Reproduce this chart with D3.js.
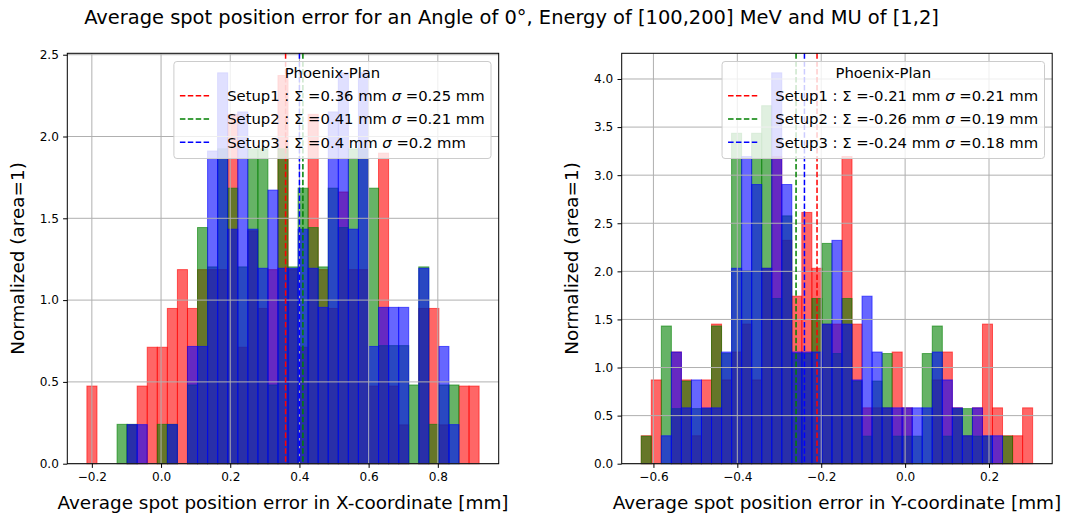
<!DOCTYPE html>
<html>
<head>
<meta charset="utf-8">
<script src="https://cdn.jsdelivr.net/npm/d3@7"></script>
<style>
  html, body { margin: 0; padding: 0; background: #ffffff; }
  svg { display: block; font-family: "DejaVu Sans", sans-serif; }
  text { white-space: pre; }
</style>
</head>
<body>
<svg id="chart" width="1084" height="519"></svg>
<script>
// ---- data ---------------------------------------------------------------
const figTitle = "Average spot position error for an Angle of 0°, Energy of [100,200] MeV and MU of [1,2]";
const legendTitle = "Phoenix-Plan";
const setupNames = ["Setup1", "Setup2", "Setup3"];
const setupColors = ["#ff0000", "#008000", "#0000ff"];

// X-coordinate error histograms (39 equal bins over the range)
const xBinRange = [-0.2143, 0.9193];
const xCountsSetup1 = [2,0,0,0,1,2,3,3,4,5,4,5,5,5,9,3,6,4,5,10,5,3,9,5,4,7,5,5,2,8,2,1,0,4,4,1,0,2,2];
const xCountsSetup2 = [0,0,0,1,1,0,0,1,1,0,2,6,5,8,7,5,8,8,2,8,5,7,6,5,7,6,8,8,7,3,3,3,2,5,1,2,2,0,0];
const xCountsSetup3 = [0,0,0,0,1,1,0,0,1,0,3,3,8,10,6,9,6,5,7,5,5,6,5,4,9,10,6,10,3,4,4,4,0,5,0,3,1,0,0];
const xMeans  = [0.36, 0.41, 0.4];
const xSigmas = [0.25, 0.21, 0.2];
const xAxisTicks = [-0.2, 0.0, 0.2, 0.4, 0.6, 0.8];
const xDensityTicks = [0.0, 0.5, 1.0, 1.5, 2.0, 2.5];

// Y-coordinate error histograms (39 equal bins over the range)
const yBinRange = [-0.629, 0.304];
const yCountsSetup1 = [1,3,0,4,3,1,3,5,3,4,5,3,7,11,8,6,9,7,5,5,11,5,2,2,2,4,2,0,0,3,4,2,1,2,5,2,1,1,2];
const yCountsSetup2 = [1,0,5,2,3,2,2,5,4,12,7,12,13,6,9,4,4,6,8,4,6,3,1,3,4,1,1,1,4,5,1,2,2,1,1,0,1,0,0];
const yCountsSetup3 = [0,0,1,4,2,3,2,2,4,7,11,10,7,14,10,4,4,4,5,8,5,3,6,4,2,2,2,2,2,4,3,2,1,2,1,1,0,0,0];
const yMeans  = [-0.21, -0.26, -0.24];
const ySigmas = [0.21, 0.19, 0.18];
const yAxisTicks = [-0.6, -0.4, -0.2, 0.0, 0.2];
const yDensityTicks = [0.0, 0.5, 1.0, 1.5, 2.0, 2.5, 3.0, 3.5, 4.0];

const xLabel = "Average spot position error in X-coordinate [mm]";
const yLabel = "Average spot position error in Y-coordinate [mm]";
const densityLabel = "Normalized (area=1)";

// ---- layout -------------------------------------------------------------
const svg = d3.select("#chart");
const plotTop = 53.3, plotBottom = 463.7;
const panels = [
  { left: 67.3,  right: 498.7,  range: xBinRange, counts: [xCountsSetup1, xCountsSetup2, xCountsSetup3],
    means: xMeans, sigmas: xSigmas, xt: xAxisTicks, yt: xDensityTicks, xlabel: xLabel, ylabelX: 24 },
  { left: 621.7, right: 1052.2, range: yBinRange, counts: [yCountsSetup1, yCountsSetup2, yCountsSetup3],
    means: yMeans, sigmas: ySigmas, xt: yAxisTicks, yt: yDensityTicks, xlabel: yLabel, ylabelX: 578 }
];

const tickFont = 12.1, labelFont = 18.4, legendFont = 14.8, titleFont = 19.45;
const fmt1 = d3.format(".1f");

svg.append("text")
  .attr("x", 511.5).attr("y", 24)
  .attr("text-anchor", "middle")
  .style("font-size", titleFont + "px")
  .attr("fill", "#000")
  .text(figTitle);

panels.forEach(p => {
  const nBins = p.counts[0].length;
  const [lo, hi] = p.range;
  const binW = (hi - lo) / nBins;
  const edges = d3.range(nBins + 1).map(i => lo + binW * i);
  // density normalisation: each histogram integrates to 1
  const densities = p.counts.map(c => {
    const total = d3.sum(c);
    return c.map(v => v / (total * binW));
  });
  const dMax = d3.max(densities.flat());
  const margin = 0.05 * (hi - lo);

  const xs = d3.scaleLinear().domain([lo - margin, hi + margin]).range([p.left, p.right]);
  const ys = d3.scaleLinear().domain([0, dMax * 1.05]).range([plotBottom, plotTop]);

  const g = svg.append("g");

  // histogram bars, one layer per setup
  densities.forEach((dens, s) => {
    g.append("g").selectAll("rect")
      .data(dens.map((v, i) => ({ v, i })).filter(d => d.v > 0))
      .join("rect")
      .attr("x", d => xs(edges[d.i]))
      .attr("width", d => xs(edges[d.i + 1]) - xs(edges[d.i]))
      .attr("y", d => ys(d.v))
      .attr("height", d => ys(0) - ys(d.v))
      .attr("fill", setupColors[s]).attr("fill-opacity", 0.6)
      .attr("stroke", setupColors[s]).attr("stroke-opacity", 0.6)
      .attr("stroke-width", 1);
  });

  // grid
  const grid = g.append("g").attr("stroke", "#b0b0b0").attr("stroke-width", 1);
  p.xt.forEach(t => grid.append("line")
    .attr("x1", xs(t)).attr("x2", xs(t)).attr("y1", plotTop).attr("y2", plotBottom));
  p.yt.forEach(t => grid.append("line")
    .attr("x1", p.left).attr("x2", p.right).attr("y1", ys(t)).attr("y2", ys(t)));

  // mean markers
  p.means.forEach((m, s) => {
    g.append("line")
      .attr("x1", xs(m)).attr("x2", xs(m))
      .attr("y1", plotTop).attr("y2", plotBottom)
      .attr("stroke", setupColors[s]).attr("stroke-width", 1.5)
      .attr("stroke-dasharray", "5.5,2.4");
  });

  // axes
  const ax = g.append("g").attr("transform", `translate(0,${plotBottom})`)
    .call(d3.axisBottom(xs).tickValues(p.xt).tickFormat(fmt1).tickSize(4.2).tickPadding(4.2));
  const ay = g.append("g").attr("transform", `translate(${p.left},0)`)
    .call(d3.axisLeft(ys).tickValues(p.yt).tickFormat(fmt1).tickSize(4.2).tickPadding(4.2));
  [ax, ay].forEach(a => {
    a.select(".domain").remove();
    a.attr("font-family", null).attr("font-size", null);
    a.selectAll("text").style("font-size", tickFont + "px").attr("fill", "#000");
    a.selectAll("line").attr("stroke", "#000").attr("stroke-width", 1);
  });

  // spines
  g.append("rect")
    .attr("x", p.left).attr("y", plotTop)
    .attr("width", p.right - p.left).attr("height", plotBottom - plotTop)
    .attr("fill", "none").attr("stroke", "#000").attr("stroke-width", 1);

  // axis labels
  g.append("text")
    .attr("x", (p.left + p.right) / 2).attr("y", 509)
    .attr("text-anchor", "middle").style("font-size", labelFont + "px")
    .text(p.xlabel);
  g.append("text")
    .attr("transform", `translate(${p.ylabelX},${(plotTop + plotBottom) / 2}) rotate(-90)`)
    .attr("text-anchor", "middle").style("font-size", labelFont + "px")
    .text(densityLabel);

  // legend
  const lg = g.append("g");
  const box = lg.append("rect");
  const rowBase = [101, 124.3, 147.6];
  const texts = setupNames.map((name, s) => {
    const t = lg.append("text").attr("y", rowBase[s]).style("font-size", legendFont + "px");
    t.append("tspan").text(`${name} : Σ =${String(p.means[s])} mm `);
    t.append("tspan").style("font-style", "italic").text("σ");
    t.append("tspan").text(` =${String(p.sigmas[s])} mm`);
    return t;
  });
  const maxW = d3.max(texts, t => t.node().getComputedTextLength());
  const boxRight = p.right - 7.7;
  const boxLeft = boxRight - (53.3 + maxW + 6.3);
  box.attr("x", boxLeft).attr("y", 61.5)
    .attr("width", boxRight - boxLeft).attr("height", 97)
    .attr("rx", 3).attr("ry", 3)
    .attr("fill", "#ffffff").attr("fill-opacity", 0.8)
    .attr("stroke", "#cccccc").attr("stroke-width", 1);
  texts.forEach(t => t.attr("x", boxLeft + 53.3));
  lg.append("text")
    .attr("x", (boxLeft + boxRight) / 2).attr("y", 78.3)
    .attr("text-anchor", "middle").style("font-size", legendFont + "px")
    .text(legendTitle);
  setupNames.forEach((name, s) => {
    lg.append("line")
      .attr("x1", boxLeft + 6).attr("x2", boxLeft + 35.5)
      .attr("y1", rowBase[s] - 5.3).attr("y2", rowBase[s] - 5.3)
      .attr("stroke", setupColors[s]).attr("stroke-width", 1.5)
      .attr("stroke-dasharray", "5.5,2.4");
  });
});
</script>
</body>
</html>
